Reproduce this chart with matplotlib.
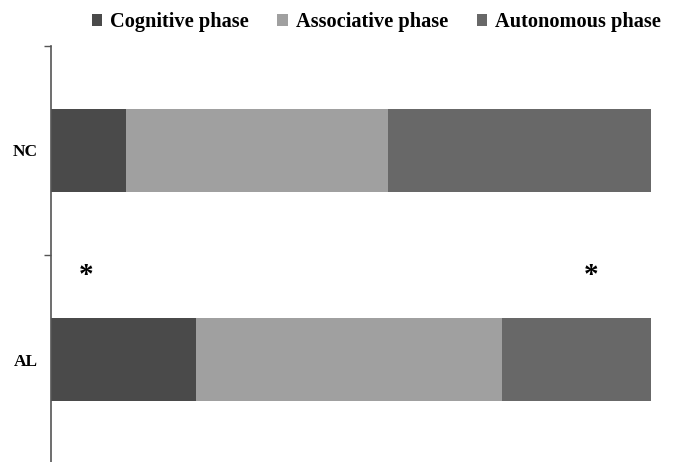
import matplotlib.pyplot as plt
import numpy as np

groups = ["NC", "AL"]
phases = ["Cognitive phase", "Associative phase", "Autonomous phase"]
cognitive = [12.5, 24.2]
associative = [43.7, 50.9]
autonomous = [43.8, 24.9]
colors = ["#4a4a4a", "#a0a0a0", "#686868"]

# significance marks (x in %, group index)
stars = [(5.8, 1), (90.0, 1)]

plt.rcParams["font.family"] = ["Liberation Serif", "DejaVu Serif"]
plt.rcParams["font.weight"] = "bold"

fig = plt.figure(figsize=(6.78, 4.62), dpi=100)
ax = fig.add_axes([51 / 678, -2 / 462, 600 / 678, 418 / 462])

y = np.array([1, 0])
left = np.zeros(len(groups))
for vals, name, c in zip([cognitive, associative, autonomous], phases, colors):
    ax.barh(y, vals, left=left, height=0.4, color=c, label=name)
    left += np.array(vals)

for sx, gi in stars:
    ax.text(sx, y[gi] + 0.40, "*", ha="center", va="center",
            fontsize=21, fontweight="bold")

ax.set_xlim(0, 100)
ax.set_ylim(-0.5, 1.5)
ax.set_yticks(y)
ax.set_yticklabels(groups, fontsize=12.5, fontweight="bold")
ax.tick_params(axis="y", which="major", length=0, pad=9.5)
ax.set_yticks([0.5, 1.5], minor=True)
ax.tick_params(axis="y", which="minor", length=5, width=1, color="#555555")
ax.set_xticks([])
for s in ["top", "right", "bottom"]:
    ax.spines[s].set_visible(False)
ax.spines["left"].set_color("#555555")
ax.spines["left"].set_linewidth(1.2)

fig.legend(loc="upper center", bbox_to_anchor=(0.555, 1.013), ncol=3, frameon=False,
           handlelength=0.5, handleheight=0.5, handletextpad=0.4,
           columnspacing=1.4, prop={"weight": "bold", "size": 14.7})

fig.savefig("out.png", dpi=100)
